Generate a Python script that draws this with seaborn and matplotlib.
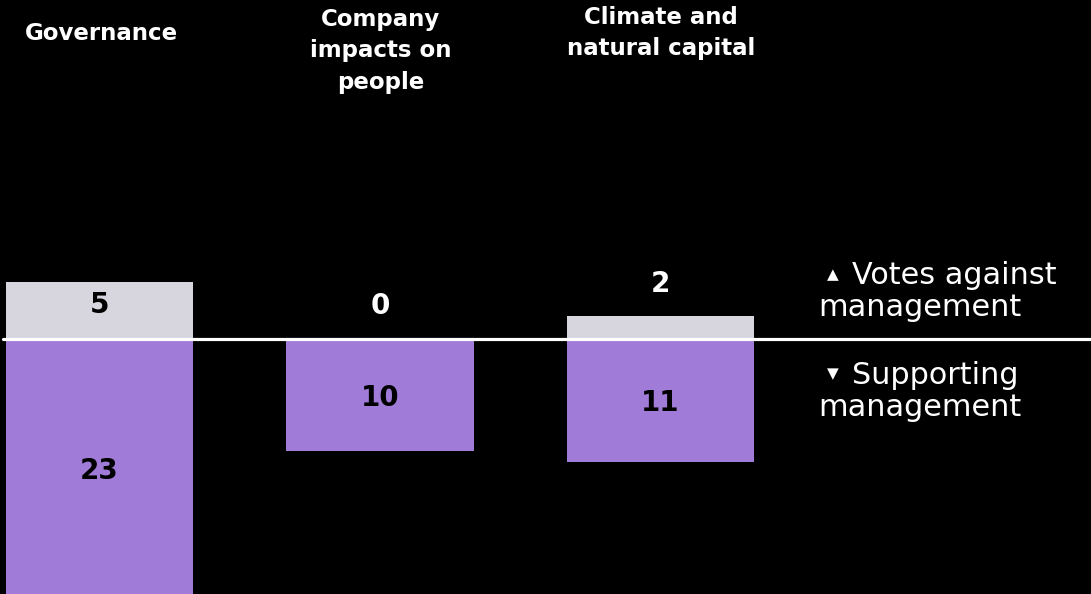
import matplotlib
matplotlib.use("Agg")
import matplotlib.pyplot as plt
import seaborn as sns
import pandas as pd

categories = ["Governance", "Company\nimpacts on\npeople", "Climate and\nnatural capital"]
votes_against = [5, 0, 2]
supporting = [23, 10, 11]
legend_labels = ["Votes against\nmanagement", "Supporting\nmanagement"]

GRAY = "#D7D5DE"
PURPLE = "#A07BD8"

sns.set_theme(style="white")
plt.rcParams["font.family"] = ["DejaVu Sans"]

W, H = 1091, 594
fig = plt.figure(figsize=(W / 100, H / 100), dpi=100, facecolor="black")
ax = fig.add_axes([0, 0, 1, 1])
ax.set_facecolor("black")

df = pd.DataFrame({"category": categories,
                   "against": votes_against,
                   "support": [-v for v in supporting]})

sns.barplot(data=df, x="category", y="against", color=GRAY, saturation=1,
            width=0.667, ax=ax, linewidth=0)
sns.barplot(data=df, x="category", y="support", color=PURPLE, saturation=1,
            width=0.667, ax=ax, linewidth=0)

px_per_unit = 11.25
zero_px = 338.5
ax.set_ylim(-(H - zero_px) / px_per_unit, zero_px / px_per_unit)
spacing = 280.5
ax.set_xlim(-99.5 / spacing, (W - 99.5) / spacing)
ax.axis("off")

# zero line
ax.axhline(0, xmin=3 / W, xmax=1, color="white", lw=2.3, zorder=5)

def fy(px):
    return 1 - px / H

def fx(px):
    return px / W

# category titles
title_centers = [(101.5, 34), (381, 51), (661, 33)]
for cat, (x, y) in zip(categories, title_centers):
    fig.text(fx(x), fy(y), cat, color="white", fontsize=16.5, fontweight="bold",
             ha="center", va="center", linespacing=1.45)

# value labels
for i, (a, s) in enumerate(zip(votes_against, supporting)):
    if a >= 4:
        ya, ca = a / 2 + 0.5, "black"
    else:
        ya, ca = a + 2.85, "white"
    ax.text(i, ya, str(a), color=ca, fontsize=20, fontweight="bold",
            ha="center", va="center", zorder=6)
    ax.text(i, -s / 2 - 0.25, str(s), color="black", fontsize=20, fontweight="bold",
            ha="center", va="center", zorder=6)

# legend-like annotation
for sym, lab, y1 in [("▲", legend_labels[0], 276), ("▼", legend_labels[1], 375)]:
    first, second = lab.split("\n")
    fig.text(fx(833), fy(y1 - 1), sym, color="white", fontsize=11,
             ha="center", va="center")
    fig.text(fx(852), fy(y1), first, color="white", fontsize=21.8,
             ha="left", va="center")
    fig.text(fx(818), fy(y1 + 32), second, color="white", fontsize=21.8,
             ha="left", va="center")

fig.savefig("out.png", dpi=100, facecolor="black")
